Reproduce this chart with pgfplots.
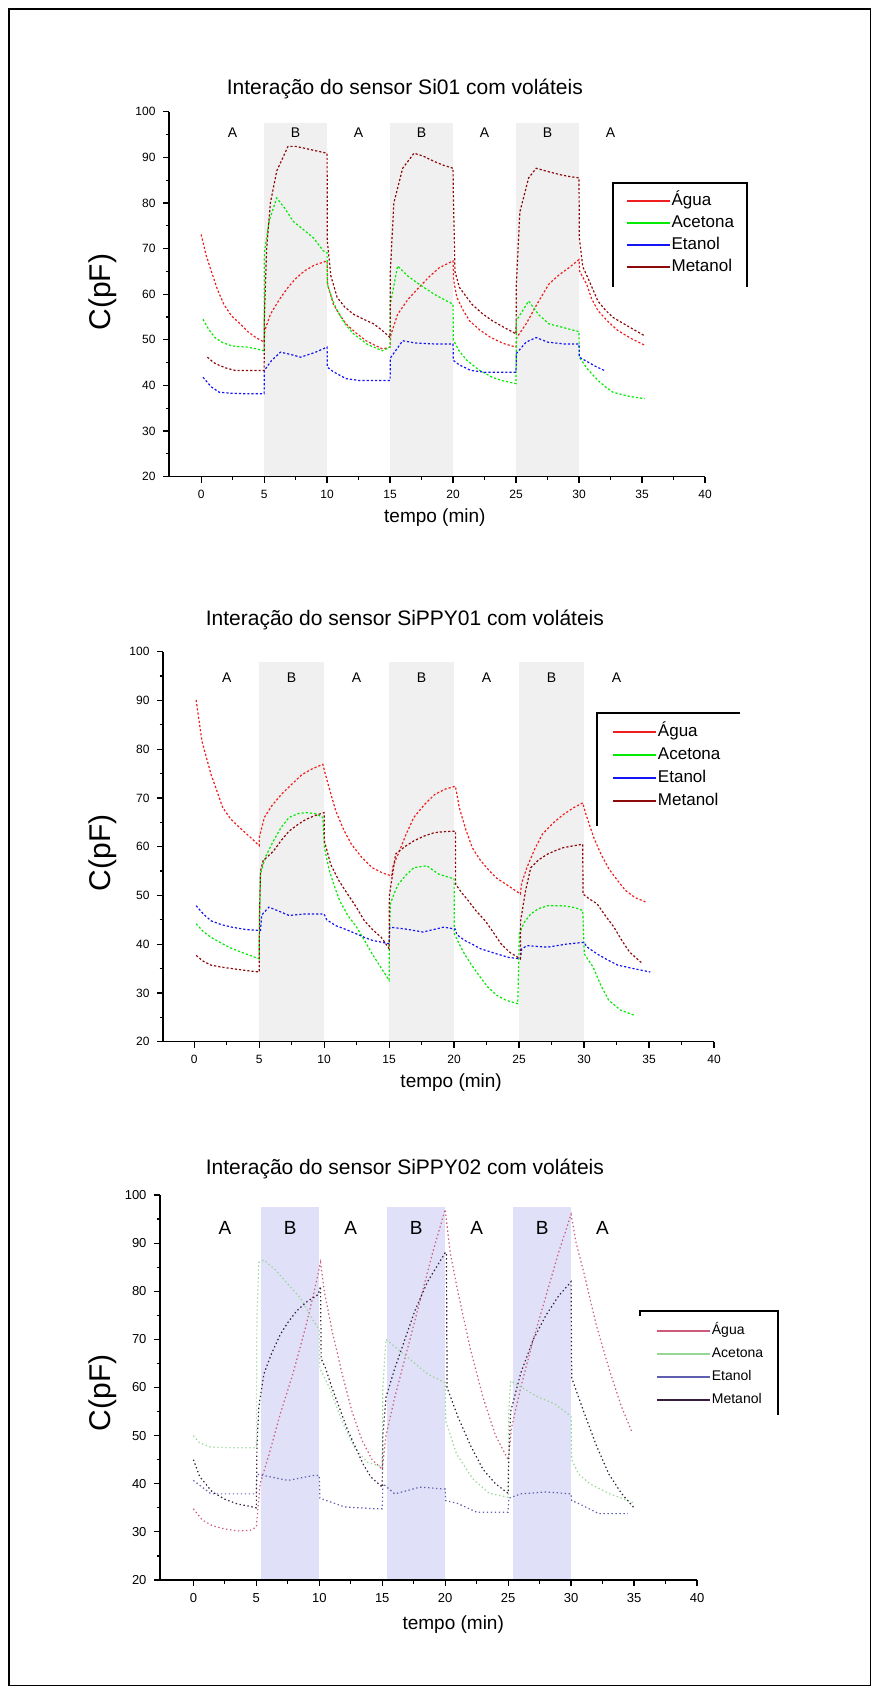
\documentclass[border=0pt]{standalone}
\usepackage{pgfplots}
\pgfplotsset{compat=1.18}
\usepackage{fontspec}
\setmainfont{Liberation Sans}
\newcommand{\fs}[1]{\fontsize{#1bp}{#1bp}\selectfont}
\definecolor{agua}{RGB}{240,30,30}
\definecolor{acet}{RGB}{0,235,0}
\definecolor{etan}{RGB}{20,20,245}
\definecolor{meta}{RGB}{140,10,10}
\definecolor{aguaC}{RGB}{205,90,120}
\definecolor{acetC}{RGB}{150,215,150}
\definecolor{etanC}{RGB}{95,95,175}
\definecolor{metaC}{RGB}{55,30,60}
\definecolor{shadeG}{RGB}{240,240,240}
\definecolor{shadeL}{RGB}{224,224,248}
\pgfplotsset{
  common/.style={
    scale only axis, axis lines=left, axis line style={-, line width=1.4bp},
    tick align=outside, major tick length=6bp, minor tick length=3.5bp,
    every tick/.style={black, line width=1.2bp},
    xtick={0,5,...,40}, minor x tick num=1,
    ytick={20,30,...,100}, minor y tick num=1,
    ymin=20, ymax=100, xmax=40,
    /pgf/number format/assume math mode=true,
    tick label style={font=\fs{12}},
    yticklabel style={xshift=-4bp},
    xticklabel style={yshift=-4bp},
    clip mode=individual, axis on top,
    xlabel={tempo (min)}, ylabel={C(pF)},
    xlabel style={anchor=center, font=\fs{19}},
    ylabel style={anchor=center, font=\fs{30}},
    legend cell align=left,
    legend image code/.code={\draw[#1, solid, line width=1.6bp] (0bp,0bp) -- (43bp,0bp);},
  },
  dl/.style={line width=1.2bp, dash pattern=on 2.2bp off 2bp},
  dl3/.style={line width=1.2bp, dash pattern=on 1.4bp off 2.6bp},
}
\begin{document}
\begin{tikzpicture}
\useasboundingbox (0,0) rectangle (879bp,-1694bp);
\draw[line width=1.8bp] (8.6bp,-8.6bp) rectangle (870.4bp,-1685.4bp);

% ---------------- Chart 1 ----------------
\begin{axis}[common, at={(169bp,-476.7bp)}, anchor=south west,
  width=536bp, height=365bp, xmin=-2.55,
  title={Interação do sensor Si01 com voláteis},
  title style={at={(axis description cs:0.440,1.046)}, anchor=center, font=\fs{21}},
  xlabel style={at={(axis description cs:0.496,-0.113)}},
  ylabel style={at={(axis description cs:-0.123,0.506)}},
  legend style={at={(axis description cs:0.828,0.805)}, anchor=north west, draw=none, fill=none,
    font=\fs{17}, inner xsep=13bp, inner ysep=9bp, row sep=4bp,
    nodes={inner sep=1bp, text height=12bp, text depth=4bp}},
]
\addplot[draw=none, fill=shadeG, forget plot] coordinates {(5,97.5) (10,97.5)} \closedcycle;
\addplot[draw=none, fill=shadeG, forget plot] coordinates {(15,97.5) (20,97.5)} \closedcycle;
\addplot[draw=none, fill=shadeG, forget plot] coordinates {(25,97.5) (30,97.5)} \closedcycle;
\addplot[dl, agua] coordinates {
(0,73.1)(0.4,68.5)(0.8,65.1)(1.3,61)(1.8,57.8)(2.4,55.3)(3.1,53.5)(3.7,51.8)(4.35,50.5)(5,49.5)
(5.05,52)(5.5,55.6)(6.2,58.8)(6.9,61.5)(7.5,63.4)(8.2,65.1)(9,66.4)(10,67.3)
(10.05,62)(10.5,57.8)(11,55.5)(11.5,53.5)(12.3,51.5)(13.1,49.8)(13.8,48.8)(14.4,48)(15,48.4)
(15.05,51)(15.6,55.6)(16.4,58.8)(17.3,61.5)(18.1,63.8)(18.9,65.8)(20,67.3)
(20.05,63)(20.3,59.3)(20.8,56.5)(21.3,54.2)(22.1,52.2)(23,50.5)(24,49.2)(25,48.4)
(25.05,50.5)(25.8,53.5)(26.7,58)(27.6,62.2)(28.4,64.2)(29.2,65.8)(30,67.6)
(30.05,65)(30.6,62.2)(31,59)(31.5,56.4)(32.3,54)(33.1,52)(34.2,50.2)(35.3,48.7)};
\addlegendentry{Água}
\addplot[dl, acet] coordinates {
(0.15,54.5)(0.6,52.3)(1.1,50.5)(1.7,49.4)(2.4,48.7)(3,48.5)(3.7,48.4)(4.4,48)(5,47.6)
(5.02,69.1)(5.4,76)(6,81.1)(6.6,79)(7.3,76)(8.1,74.2)(8.9,72.4)(9.7,69.5)(10,69.1)
(10.02,62.2)(10.4,59)(10.8,56.4)(11.4,53.6)(12.1,51.3)(13.2,49)(14.4,47.6)(15,48.4)
(15.02,57.8)(15.6,66.2)(16.4,64)(17.3,62.2)(18.5,60)(19.3,58.8)(20,57.8)
(20.02,50)(20.5,47.5)(21.1,45.5)(22,43.5)(23.1,41.8)(24,41)(25,40.4)
(25.02,54.2)(26,58.5)(26.8,55.5)(27.6,53.5)(28.6,52.8)(29.7,52)(30,51.8)
(30.02,46.2)(30.7,43.5)(31.5,41.1)(32.1,39.7)(32.7,38.5)(34,37.6)(35.2,37.1)};
\addlegendentry{Acetona}
\addplot[dl, etan] coordinates {
(0.15,41.8)(0.8,39.7)(1.45,38.5)(2.4,38.3)(3.4,38.2)(4.2,38.2)(5,38.2)
(5.02,43.3)(5.6,45.5)(6.3,47.3)(7.1,46.8)(7.9,46.2)(9,47.2)(10,48.4)
(10.02,44)(10.5,43)(11.5,41.5)(12.5,41.1)(13.7,41.1)(15,41.1)
(15.02,46)(16,49.8)(17,49.3)(18.5,49.1)(20,49.1)
(20.02,45.5)(20.5,44.5)(21.4,43.3)(22.5,42.9)(23.8,42.9)(25,42.9)
(25.02,47)(25.8,49.5)(26.6,50.5)(27.5,49.5)(28.8,49.1)(30,49.1)
(30.02,46.2)(30.6,45.3)(31.3,44.2)(32,43.3)};
\addlegendentry{Etanol}
\addplot[dl, meta] coordinates {
(0.5,46.2)(1,45)(1.45,44.4)(2,43.8)(2.7,43.3)(3.5,43.3)(4.3,43.3)(5,43.3)
(5.02,55)(5.2,70)(5.5,80)(6,87)(6.9,92.4)(7.5,92.4)(8.2,92)(9,91.5)(10,90.9)
(10.02,71.6)(10.3,64)(10.8,59.3)(11.4,57.2)(12.1,55.6)(12.9,54.5)(13.7,53.5)(14.4,52)(15,50.5)
(15.02,65)(15.3,80)(16,87.6)(16.9,90.9)(17.6,90.3)(18.5,89.1)(19.2,88.3)(20,87.6)
(20.02,82.5)(20.15,65)(20.5,61.5)(21.5,57.8)(22.3,55.8)(23.1,54.2)(24,52.8)(25,51.3)
(25.02,62)(25.3,78)(26,85.5)(26.6,87.6)(27.5,86.9)(28.5,86.2)(29.2,85.8)(30,85.5)
(30.02,72.4)(30.3,66)(30.7,63.6)(31.5,58.5)(32.1,56.5)(32.7,54.9)(34,52.8)(35.2,50.9)};
\addlegendentry{Metanol}
\foreach \xx/\ll in {2.5/A,7.5/B,12.5/A,17.5/B,22.5/A,27.5/B,32.5/A}{
  \edef\tmp{\noexpand\node[font=\noexpand\fs{14}] at (axis cs:\xx,95.4) {\ll};}\tmp}
\draw[line width=1.6bp] (axis description cs:0.828,0.520) -- (axis description cs:0.828,0.805)
  -- (axis description cs:1.078,0.805) -- (axis description cs:1.078,0.520);
\end{axis}

% ---------------- Chart 2 ----------------
\begin{axis}[common, at={(163bp,-1041.7bp)}, anchor=south west,
  width=551bp, height=390bp, xmin=-2.4,
  title={Interação do sensor SiPPY01 com voláteis},
  title style={at={(axis description cs:0.439,1.066)}, anchor=center, font=\fs{21}},
  xlabel style={at={(axis description cs:0.523,-0.106)}},
  ylabel style={at={(axis description cs:-0.109,0.484)}},
  legend style={at={(axis description cs:0.788,0.843)}, anchor=north west, draw=none, fill=none,
    font=\fs{17}, inner xsep=15bp, inner ysep=10bp, row sep=5bp,
    nodes={inner sep=1bp, text height=12bp, text depth=4bp}},
]
\addplot[draw=none, fill=shadeG, forget plot] coordinates {(5,97.8) (10,97.8)} \closedcycle;
\addplot[draw=none, fill=shadeG, forget plot] coordinates {(15,97.8) (20,97.8)} \closedcycle;
\addplot[draw=none, fill=shadeG, forget plot] coordinates {(25,97.8) (30,97.8)} \closedcycle;
\addplot[dl, agua] coordinates {
(0.15,90.1)(0.6,81.6)(1.3,74.8)(2.2,68)(2.8,65.7)(3.5,63.9)(4.3,62)(5,60.2)
(5.02,62)(5.4,66)(6,68.5)(6.7,70.7)(7.5,72.8)(8.3,74.8)(9.1,76)(9.9,76.9)
(10.1,74.8)(10.5,71)(10.9,67.3)(11.5,63.5)(12.1,60.5)(12.9,57.8)(13.7,55.7)(14.5,54.6)(15.2,54)
(15.3,56)(15.7,58.5)(16.3,62.5)(16.9,66)(17.7,68.6)(18.5,70.7)(19.3,71.8)(20.1,72.4)
(20.2,71)(20.4,68)(20.9,63.5)(21.4,59.8)(22,57.3)(22.7,55.1)(23.3,53.5)(24,52.3)(25.1,50.3)
(25.2,52.5)(25.6,55.7)(26.2,59.5)(26.8,62.6)(27.6,64.8)(28.4,66.6)(29.2,68)(29.9,69)
(30.1,67)(30.4,64.6)(30.8,61.5)(31.3,58.5)(31.9,55.5)(32.6,53)(33.2,51)(33.9,49.6)(34.8,48.6)};
\addlegendentry{Água}
\addplot[dl, acet] coordinates {
(0.15,44.2)(0.7,42.6)(1.3,41.4)(2.1,40.2)(2.9,39.1)(4,38)(5,37)
(5.02,44)(5.1,54.4)(5.5,58)(6.1,61.2)(6.7,64)(7.3,66)(8,66.8)(8.6,67)(9.3,66.8)(9.9,66)
(10.02,59.8)(10.4,55.1)(10.8,51.8)(11.2,48.9)(11.8,46)(12.5,43.5)(13.1,40.8)(13.7,38)(14.3,35.5)(15,32.6)
(15.02,42)(15.1,48.3)(15.4,50.5)(15.7,52.3)(16.3,54.2)(16.9,55.7)(17.9,56.1)(18.8,54.4)(19.5,53.8)(20,53.4)
(20.02,42.1)(20.4,40)(20.8,38)(21.4,35.5)(22,33.3)(22.6,31.2)(23.3,29.5)(24,28.5)(24.9,27.8)
(25.02,42.1)(25.4,44.5)(25.9,46.2)(26.5,47.3)(27.2,47.9)(28.4,47.9)(29.3,47.5)(29.9,46.9)
(30.02,38)(30.7,35.3)(31.3,31.5)(31.9,28.5)(32.8,26.5)(33.9,25.4)};
\addlegendentry{Acetona}
\addplot[dl, etan] coordinates {
(0.15,47.9)(0.7,46.2)(1.3,44.8)(2.1,44)(2.9,43.5)(4,43)(5.1,42.8)
(5.2,46)(5.75,47.6)(6.5,46.8)(7.3,45.9)(8.5,46.2)(10,46.2)
(10.2,45)(10.9,43.8)(11.7,43)(12.5,42.1)(13.1,41.4)(13.7,40.8)(15,40.1)
(15.05,43.5)(16.3,43.1)(17.6,42.5)(19.2,43.5)(20.1,43.1)
(20.2,42)(20.8,40.8)(21.4,40)(22,39.1)(23.3,38)(24.2,37.3)(25.1,37)
(25.2,39)(25.6,39.7)(27.2,39.4)(28.6,40)(30,40.4)
(30.2,39.5)(31,38)(31.8,36.8)(32.6,35.7)(33.8,35)(35.1,34.3)};
\addlegendentry{Etanol}
\addplot[dl, meta] coordinates {
(0.15,37.7)(0.7,36.5)(1.3,35.7)(2.1,35.3)(2.9,35)(4,34.6)(5,34.3)
(5.02,45)(5.1,55)(5.3,57.1)(6.1,59.1)(6.7,61.3)(7.3,63.2)(8,64.6)(8.6,65.6)(9.3,66.4)(10,67)
(10.02,61.2)(10.5,56.4)(11.1,53.2)(11.8,50.3)(12.5,47.5)(13.1,44.8)(13.8,42.8)(14.4,41.4)(15,39.1)
(15.02,50)(15.5,58.5)(16.2,60)(16.9,61.2)(17.7,62.2)(18.5,62.9)(19.3,63.1)(20.1,63.2)
(20.12,52.3)(20.6,50.5)(21.1,48.9)(21.7,46.8)(22.4,44.8)(23,42.5)(23.6,40.1)(24.3,38.3)(25.1,37)
(25.12,44.8)(25.5,51)(25.9,55.7)(26.5,57.3)(27.2,58.5)(27.8,59.2)(28.4,59.8)(29.2,60.2)(29.9,60.5)
(29.92,50.3)(30.4,49.3)(31,48.3)(31.6,46)(32.3,43.5)(32.9,40.8)(33.5,38.4)(34.5,36)};
\addlegendentry{Metanol}
\foreach \xx/\ll in {2.5/A,7.5/B,12.5/A,17.5/B,22.5/A,27.5/B,32.5/A}{
  \edef\tmp{\noexpand\node[font=\noexpand\fs{14}] at (axis cs:\xx,94.6) {\ll};}\tmp}
\draw[line width=1.6bp] (axis description cs:0.788,0.553) -- (axis description cs:0.788,0.843)
  -- (axis description cs:1.047,0.843);
\end{axis}

% ---------------- Chart 3 ----------------
\begin{axis}[common, at={(160bp,-1580bp)}, anchor=south west,
  width=537bp, height=385bp, xmin=-2.65,
  tick label style={font=\fs{13}},
  title={Interação do sensor SiPPY02 com voláteis},
  title style={at={(axis description cs:0.456,1.052)}, anchor=center, font=\fs{21}},
  xlabel style={at={(axis description cs:0.546,-0.117)}},
  ylabel style={at={(axis description cs:-0.106,0.486)}},
  legend image code/.code={\draw[#1, solid, line width=1.6bp] (0bp,0bp) -- (53bp,0bp);},
  legend style={at={(axis description cs:0.894,0.699)}, anchor=north west, draw=none, fill=none,
    font=\fs{14}, inner xsep=16bp, inner ysep=12bp, row sep=7bp,
    nodes={inner sep=1bp, text height=10.5bp, text depth=3.5bp}},
]
\addplot[draw=none, fill=shadeL, forget plot] coordinates {(5.4,97.5) (10,97.5)} \closedcycle;
\addplot[draw=none, fill=shadeL, forget plot] coordinates {(15.4,97.5) (20,97.5)} \closedcycle;
\addplot[draw=none, fill=shadeL, forget plot] coordinates {(25.4,97.5) (30,97.5)} \closedcycle;
\addplot[dl3, aguaC] coordinates {
(0,34.8)(0.7,32.5)(1.5,31.3)(2.5,30.6)(3.5,30.2)(4.5,30.3)(5,31)
(5.3,40)(6,46)(6.9,54.5)(7.9,62.8)(8.9,72.4)(9.6,80)(10.1,86)
(10.4,80)(11,72)(11.8,63)(12.6,55)(13.4,49)(14.2,45)(15,43)
(15.3,50)(16,58)(17,68)(18,78)(19,88)(20,97)
(20.4,88)(21,80)(22,68)(23,58)(24,50)(25,45)
(25.3,52)(26,60)(27,70)(28,79)(29,88)(30,96)
(30.4,90)(31,84)(32,73)(33,64)(34,56)(34.8,51)};
\addlegendentry{Água}
\addplot[dl3, acetC] coordinates {
(0,50)(0.5,48.5)(1.4,47.6)(3,47.5)(5,47.5)
(5.05,75)(5.2,86)(5.6,86.5)(6.5,84.5)(7.5,81.5)(8.5,78.6)(9.5,74)(10,72)
(10.05,64)(10.8,60)(11.8,53)(12.8,47.5)(13.8,44.5)(15,43.5)
(15.05,60)(15.3,70)(16.4,67.6)(17.7,64.8)(18.6,62.8)(20,61)
(20.05,53)(20.9,46.2)(22.2,41)(23.5,38)(25,37.2)
(25.05,55)(25.2,61.4)(26.1,60)(27.4,58)(28.7,56.6)(30,54)
(30.05,45)(30.6,42)(31.5,40)(33,38)(35,36)};
\addlegendentry{Acetona}
\addplot[dl3, etanC] coordinates {
(0,40.7)(1.4,37.9)(3,37.9)(5,37.9)
(5.05,42)(6,41.5)(7.5,40.7)(9.5,41.7)(10,41.7)
(10.05,37)(12,35.2)(14.5,34.8)(15,34.8)
(15.05,40)(16,37.9)(18,39.3)(20,38.9)
(20.05,36.5)(21,35.9)(22.5,34.1)(24,34.1)(25,34.1)
(25.05,37)(26,37.9)(28,38.3)(30,37.9)
(30.05,36.5)(30.6,35.9)(32.2,33.8)(34.5,33.8)};
\addlegendentry{Etanol}
\addplot[dl3, metaC] coordinates {
(0,45)(0.5,41.5)(1.5,38.3)(2.5,36.8)(3.5,35.8)(4.5,35.3)(5,35)
(5.05,48)(5.2,56)(5.6,62.8)(6.2,67)(6.9,71)(7.5,73.5)(8.2,75.9)(9,77.8)(9.9,79.3)(10.1,81)
(10.15,66)(10.5,64)(11,60)(11.5,56.5)(12.2,51.5)(12.8,48)(13.5,44)(14.1,41.4)(15,39.3)
(15.05,50)(15.3,58)(16,64)(16.8,70)(17.6,76)(18.6,82)(20,88)
(20.1,88)(20.15,60)(21,54)(22,48)(23,43)(24,40)(25,38)
(25.05,45)(25.2,55)(26,63)(27,70)(28,75)(29,79)(30,82)
(30.05,62)(31,55)(32,48)(33,42)(34,38)(35,35)};
\addlegendentry{Metanol}
\foreach \xx/\ll in {2.5/A,7.7/B,12.5/A,17.7/B,22.5/A,27.7/B,32.5/A}{
  \edef\tmp{\noexpand\node[font=\noexpand\fs{19}] at (axis cs:\xx,93.1) {\ll};}\tmp}
\draw[line width=1.6bp] (axis description cs:0.894,0.685) -- (axis description cs:0.894,0.699)
  -- (axis description cs:1.151,0.699) -- (axis description cs:1.151,0.429);
\end{axis}
\end{tikzpicture}
\end{document}
